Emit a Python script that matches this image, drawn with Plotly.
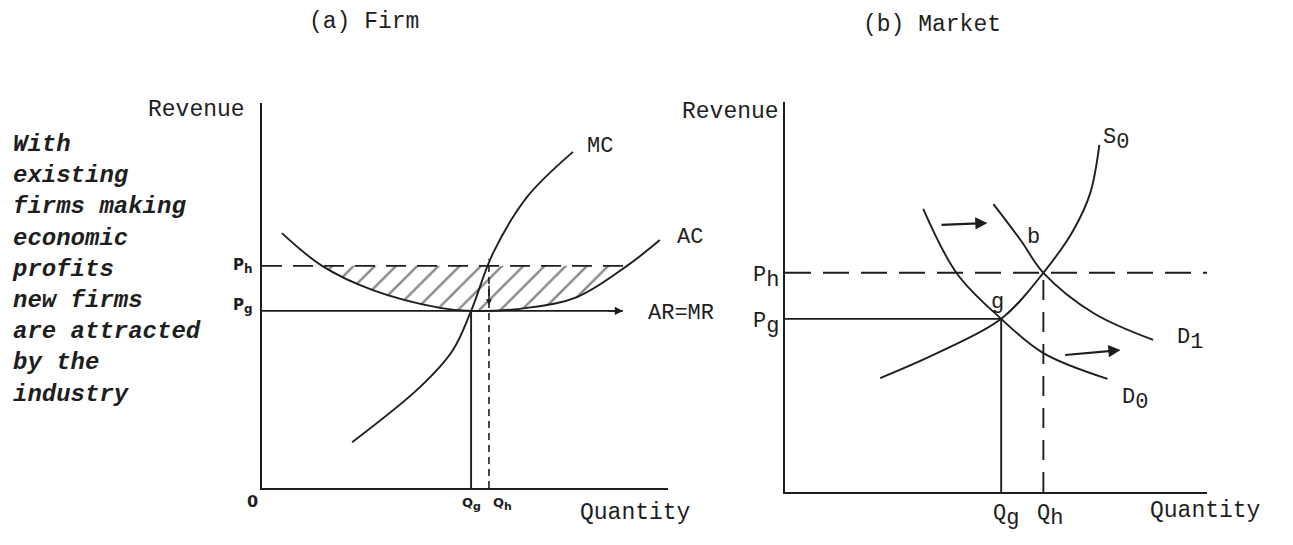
import plotly.graph_objects as go

# page body has an 8px margin: figure is sized/positioned so that the
# reference pixel coordinates below land where they belong in the window
W, H = 1293, 545
OFF = 8
FW, FH = W - 2 * OFF, H - 2 * OFF
INK = "#1e1e1e"
MONO = "Liberation Mono"

# ---------------- (a) Firm data ----------------
firm_ac_x = [0.49, 1.48, 2.73, 4.38, 5.15, 6.53, 7.76, 8.99, 9.80]
firm_ac_y = [6.62, 5.77, 5.14, 4.68, 4.60, 4.68, 4.96, 5.77, 6.44]
firm_mc_x = [2.22, 3.89, 4.70, 5.15, 5.69, 6.53, 7.66]
firm_mc_y = [1.19, 2.62, 3.58, 4.60, 6.10, 7.56, 8.73]
firm_pg, firm_ph = 4.60, 5.77
firm_qg, firm_qh = 5.15, 5.59
firm_ar_end, firm_ph_end = 8.89, 8.99
firm_qh_top = 5.95
# profit (hatched) region: AC points below Ph
profit_x = [1.48, 2.73, 4.38, 5.15, 6.53, 7.76, 8.99]
profit_y = [5.77, 5.14, 4.68, 4.60, 4.68, 4.96, 5.77]

# ---------------- (b) Market data ----------------
s0_x = [2.21, 3.53, 5.02, 6.00, 6.70, 7.09, 7.30]
s0_y = [2.92, 3.56, 4.44, 5.62, 6.72, 7.67, 8.90]
d0_x = [3.21, 4.00, 5.02, 6.00, 7.49]
d0_y = [7.26, 5.59, 4.44, 3.56, 2.90]
d1_x = [4.84, 5.47, 6.00, 7.16, 8.55]
d1_y = [7.38, 6.46, 5.62, 4.59, 3.90]
mkt_pg, mkt_ph = 4.44, 5.62
mkt_qg, mkt_qh = 5.02, 6.00
mkt_ph_end = 9.80
shift_arrows = [((3.60, 6.85), (4.70, 6.90)), ((6.47, 3.51), (7.79, 3.64))]


def pxx(x):
    return (x - OFF) / FW


def pyy(y):
    return 1 - (y - OFF) / FH


fig = go.Figure()

def line(xs, ys, xa, ya, dash="solid", shape="spline", width=1.9):
    fig.add_trace(go.Scatter(x=xs, y=ys, mode="lines", xaxis=xa, yaxis=ya,
                             line=dict(color=INK, width=width, dash=dash, shape=shape),
                             hoverinfo="skip", showlegend=False))

# --- Firm ---
fig.add_trace(go.Scatter(x=profit_x, y=profit_y, mode="lines", xaxis="x", yaxis="y",
                         fill="toself", line=dict(width=0, shape="spline"),
                         fillcolor="rgba(0,0,0,0)",
                         fillpattern=dict(shape="/", fgcolor="#111", bgcolor="rgba(0,0,0,0)",
                                          size=15, solidity=0.16),
                         hoverinfo="skip", showlegend=False))
line([0, firm_ph_end], [firm_ph, firm_ph], "x", "y", dash="20px,11px", shape="linear")
line([0, firm_ar_end], [firm_pg, firm_pg], "x", "y", shape="linear")
line(firm_ac_x, firm_ac_y, "x", "y")
line(firm_mc_x, firm_mc_y, "x", "y")
line([firm_qg, firm_qg], [0, firm_pg], "x", "y", shape="linear")
line([firm_qh, firm_qh], [0, firm_qh_top], "x", "y", dash="7px,5px", shape="linear", width=1.6)

# --- Market ---
line([0, mkt_ph_end], [mkt_ph, mkt_ph], "x2", "y2", dash="26px,12px", shape="linear")
line([0, mkt_qg], [mkt_pg, mkt_pg], "x2", "y2", shape="linear")
line([mkt_qg, mkt_qg], [0, mkt_pg], "x2", "y2", shape="linear")
line([mkt_qh, mkt_qh], [0, mkt_ph], "x2", "y2", dash="20px,12px", shape="linear")
line(s0_x, s0_y, "x2", "y2")
line(d0_x, d0_y, "x2", "y2")
line(d1_x, d1_y, "x2", "y2")

ax_common = dict(showgrid=False, zeroline=False, showticklabels=False, ticks="",
                 showline=True, linecolor=INK, linewidth=2, fixedrange=True)

fig.update_layout(
    width=FW, height=FH,
    margin=dict(l=0, r=0, t=0, b=0),
    paper_bgcolor="white", plot_bgcolor="white",
    font=dict(family=MONO, size=22, color=INK),
    showlegend=False,
    xaxis=dict(domain=[pxx(262), pxx(668)], range=[0, 10], anchor="y", **ax_common),
    yaxis=dict(domain=[pyy(488), pyy(103)], range=[0, 10], anchor="x", **ax_common),
    xaxis2=dict(domain=[pxx(785), pxx(1207)], range=[0, 9.8], anchor="y2", **ax_common),
    yaxis2=dict(domain=[pyy(492), pyy(102)], range=[0, 10], anchor="x2", **ax_common),
)

annotations = []

def label(text, x, y, size=22, xanchor="center", yanchor="middle", family=MONO, align="center"):
    annotations.append(dict(text=text, x=pxx(x), y=pyy(y), xref="paper", yref="paper",
                            showarrow=False, xanchor=xanchor, yanchor=yanchor, align=align,
                            font=dict(family=family, size=size, color=INK)))

def arrow(head, tail, xr, yr, size=1.0, width=2):
    annotations.append(dict(text="", x=head[0], y=head[1], ax=tail[0], ay=tail[1],
                            xref=xr, yref=yr, axref=xr, ayref=yr, showarrow=True,
                            arrowhead=2, arrowsize=size, arrowwidth=width, arrowcolor=INK))

def sub(base, s, size=22):
    return f"{base}<sub><span style='font-size:{size}px'>{s}</span></sub>"

# titles
label("(a) Firm", 364, 22, size=23)
label("(b) Market", 932, 25, size=23)

# side text
label("<b><i>With<br>existing<br>firms making<br>economic<br>profits<br>new firms<br>"
      "are attracted<br>by the<br>industry</i></b>", 10, 129, size=24,
      xanchor="left", yanchor="top", align="left")

# firm labels
label("Revenue", 247, 110, size=23, xanchor="right")
label("MC", 600, 146)
label("AC", 690, 238)
label("AR=MR", 681, 313)
label("<b>" + sub("P", "h", 12) + "</b>", 243, 266, size=15, family="DejaVu Sans")
label("<b>" + sub("P", "g", 12) + "</b>", 243, 306, size=15, family="DejaVu Sans")
label("<b>0</b>", 252, 501, size=16, family="DejaVu Sans")
label("<b>" + sub("Q", "g", 11) + "</b>", 472, 504, size=13, family="DejaVu Sans")
label("<b>" + sub("Q", "h", 11) + "</b>", 502, 504, size=13, family="DejaVu Sans")
label("Quantity", 635, 513, size=23)

# market labels
label("Revenue", 781, 112, size=23, xanchor="right")
label(sub("S", "0"), 1116, 140, size=22)
label("b", 1033, 238, size=22)
label("g", 997, 302, size=22)
label(sub("D", "1"), 1190, 340, size=22)
label(sub("D", "0"), 1135, 400, size=22)
label(sub("P", "h"), 766, 278, size=22)
label(sub("P", "g"), 766, 324, size=22)
label(sub("Q", "g"), 1006, 516, size=22)
label(sub("Q", "h"), 1050, 516, size=22)
label("Quantity", 1205, 511, size=23)

# arrows
for tail, head in shift_arrows:
    arrow(head, tail, "x2", "y2", size=1.1, width=2.2)
arrow((firm_ar_end, firm_pg), (firm_ar_end - 0.4, firm_pg), "x", "y", size=0.9, width=1.8)
arrow((firm_qh, firm_pg + 0.15), (firm_qh, firm_pg + 0.7), "x", "y", size=0.8, width=1.5)

fig.update_layout(annotations=annotations)
fig.write_html("out.html")
